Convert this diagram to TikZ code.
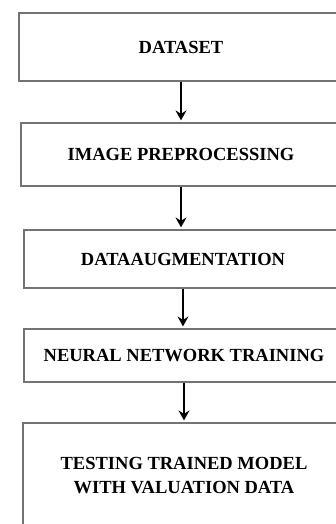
\documentclass[tikz,border=0pt]{standalone}
\usepackage{fontspec}
\setmainfont{Liberation Serif}
\usetikzlibrary{arrows.meta, positioning}

\tikzset{
  stage/.style={draw=black!55, line width=1.2pt, align=center, inner sep=0pt,
    font=\bfseries\fontsize{18.5}{24}\selectfont},
  flow/.style={-{Stealth[length=10pt,width=11pt,inset=3.5pt]}, line width=1.7pt, shorten >=2pt}
}

\begin{document}
\begin{tikzpicture}[x=1pt,y=1pt]

\useasboundingbox[fill=white] (0,0) rectangle (335,-524);

\node[stage, minimum width=324, minimum height=68] (dataset) at (181,-47) {DATASET};
\node[stage, minimum width=320, minimum height=63] (prep) at (181,-154.5) {IMAGE PREPROCESSING};
\node[stage, minimum width=318, minimum height=58] (augm) at (183,-259) {DATAAUGMENTATION};
\node[stage, minimum width=320, minimum height=53] (train) at (184,-355.5) {NEURAL NETWORK TRAINING};
\node[stage, minimum width=322, minimum height=105] (test) at (184,-475.5) {TESTING TRAINED MODEL\\WITH VALUATION DATA};

\draw[flow] (dataset.south) -- (dataset.south |- prep.north);
\draw[flow] (prep.south) -- (prep.south |- augm.north);
\draw[flow] (augm.south) -- (augm.south |- train.north);
\draw[flow] (train.south) -- (train.south |- test.north);

\end{tikzpicture}
\end{document}
